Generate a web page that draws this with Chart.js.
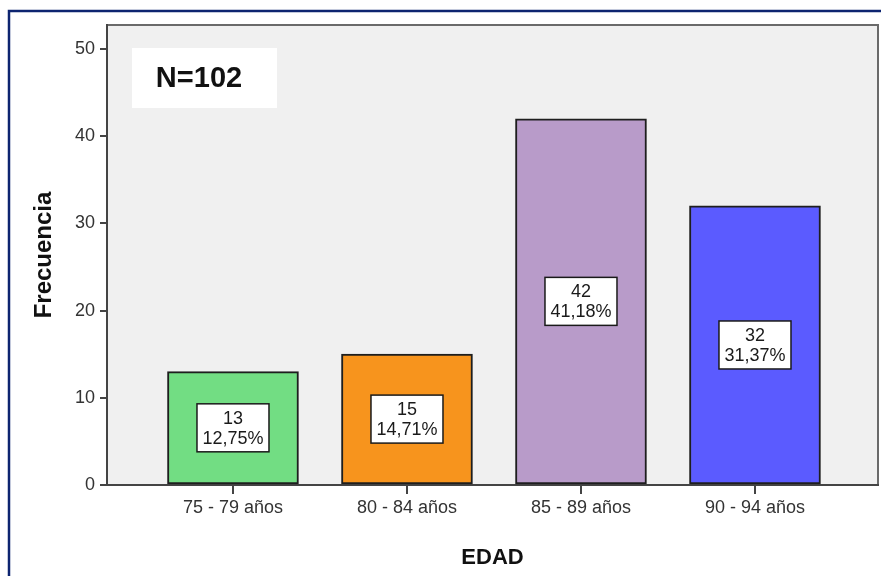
<!DOCTYPE html>
<html>
<head>
<meta charset="utf-8">
<script src="https://cdn.jsdelivr.net/npm/chart.js@4"></script>
<style>
  html, body { margin: 0; padding: 0; background: #ffffff; }
  canvas { display: block; }
</style>
</head>
<body>
<canvas id="chart" width="881" height="576"></canvas>
<script>
// Age groups and their frequencies
const categories = ['75 - 79 años', '80 - 84 años', '85 - 89 años', '90 - 94 años'];
const frequencies = [13, 15, 42, 32];
const barColors = ['#72dd83', '#f7941d', '#b89bc9', '#5b5bff'];
const yTicks = [0, 10, 20, 30, 40, 50];
const sampleLabel = 'N=102';
const total = frequencies.reduce((a, b) => a + b, 0);

const FONT = '"Liberation Sans", Arial, sans-serif';

// Grey plot background, outer navy frame and the top/right edges of the plot box
const frame = {
  id: 'frame',
  beforeDraw(chart) {
    const { ctx, chartArea: a } = chart;
    ctx.save();
    ctx.fillStyle = '#ffffff';
    ctx.fillRect(0, 0, chart.width, chart.height);
    ctx.fillStyle = '#f0f0f0';
    ctx.fillRect(a.left, a.top, a.right - a.left, a.bottom - a.top);
    ctx.strokeStyle = '#0d2470';
    ctx.lineWidth = 2.5;
    ctx.beginPath();
    ctx.moveTo(9, chart.height);
    ctx.lineTo(9, 11);
    ctx.lineTo(chart.width, 11);
    ctx.stroke();
    ctx.strokeStyle = '#6a6a6a';
    ctx.lineWidth = 2;
    ctx.beginPath();
    ctx.moveTo(a.left, a.top);
    ctx.lineTo(a.right, a.top);
    ctx.lineTo(a.right, a.bottom);
    ctx.stroke();
    ctx.restore();
  }
};

// Value and percentage boxes inside each bar, plus the sample size box
const annotations = {
  id: 'annotations',
  afterDatasetsDraw(chart) {
    const { ctx } = chart;
    const meta = chart.getDatasetMeta(0);
    ctx.save();
    meta.data.forEach((bar, i) => {
      const cy = (bar.y + bar.base) / 2;
      const w = 72, h = 48;
      ctx.fillStyle = '#ffffff';
      ctx.fillRect(bar.x - w / 2, cy - h / 2, w, h);
      ctx.strokeStyle = '#1a1a1a';
      ctx.lineWidth = 1.5;
      ctx.strokeRect(bar.x - w / 2, cy - h / 2, w, h);
      ctx.fillStyle = '#1a1a1a';
      ctx.font = '18px ' + FONT;
      ctx.textAlign = 'center';
      ctx.textBaseline = 'middle';
      const v = frequencies[i];
      const pct = (v / total * 100).toFixed(2).replace('.', ',') + '%';
      ctx.fillText(String(v), bar.x, cy - 9);
      ctx.fillText(pct, bar.x, cy + 11);
    });
    ctx.fillStyle = '#ffffff';
    ctx.fillRect(132, 48, 145, 60);
    ctx.fillStyle = '#111111';
    ctx.font = 'bold 29px ' + FONT;
    ctx.textAlign = 'center';
    ctx.textBaseline = 'middle';
    ctx.fillText(sampleLabel, 199, 79);
    ctx.restore();
  }
};

new Chart(document.getElementById('chart'), {
  type: 'bar',
  data: {
    datasets: [{
      data: frequencies.map((v, i) => ({ x: i, y: v })),
      backgroundColor: barColors,
      borderColor: '#1e1e1e',
      borderWidth: 2,
      borderSkipped: false,
      barThickness: 131
    }]
  },
  options: {
    responsive: false,
    devicePixelRatio: 1,
    animation: false,
    layout: { padding: { left: 0, top: 25, right: 3, bottom: 0 } },
    plugins: { legend: { display: false }, tooltip: { enabled: false } },
    scales: {
      x: {
        type: 'linear',
        offset: false,
        min: -0.724,
        max: 3.707,
        afterBuildTicks: s => { s.ticks = categories.map((_, i) => ({ value: i })); },
        afterFit: s => { s.height = 91; },
        ticks: {
          callback: v => categories[v] ?? '',
          color: '#333333',
          font: { family: FONT, size: 18 },
          padding: 3,
          maxRotation: 0,
          autoSkip: false
        },
        grid: { offset: false, drawOnChartArea: false, drawTicks: true, tickLength: 9, color: '#444444', lineWidth: 2 },
        border: { display: true, color: '#444444', width: 2 },
        title: {
          display: true,
          text: 'EDAD',
          color: '#111111',
          font: { family: FONT, size: 22, weight: 'bold' },
          padding: { top: 0, bottom: 5 }
        }
      },
      y: {
        min: 0,
        max: 52.75,
        afterBuildTicks: s => { s.ticks = yTicks.map(v => ({ value: v })); },
        afterFit: s => { s.width = 107; },
        ticks: {
          color: '#333333',
          font: { family: FONT, size: 18 },
          padding: 5
        },
        grid: { drawOnChartArea: false, drawTicks: true, tickLength: 7, color: '#444444', lineWidth: 2 },
        border: { display: true, color: '#444444', width: 2 },
        title: {
          display: true,
          text: 'Frecuencia',
          color: '#111111',
          font: { family: FONT, size: 24, weight: 'bold' },
          padding: { top: 30, bottom: 0 }
        }
      }
    }
  },
  plugins: [frame, annotations]
});
</script>
</body>
</html>
